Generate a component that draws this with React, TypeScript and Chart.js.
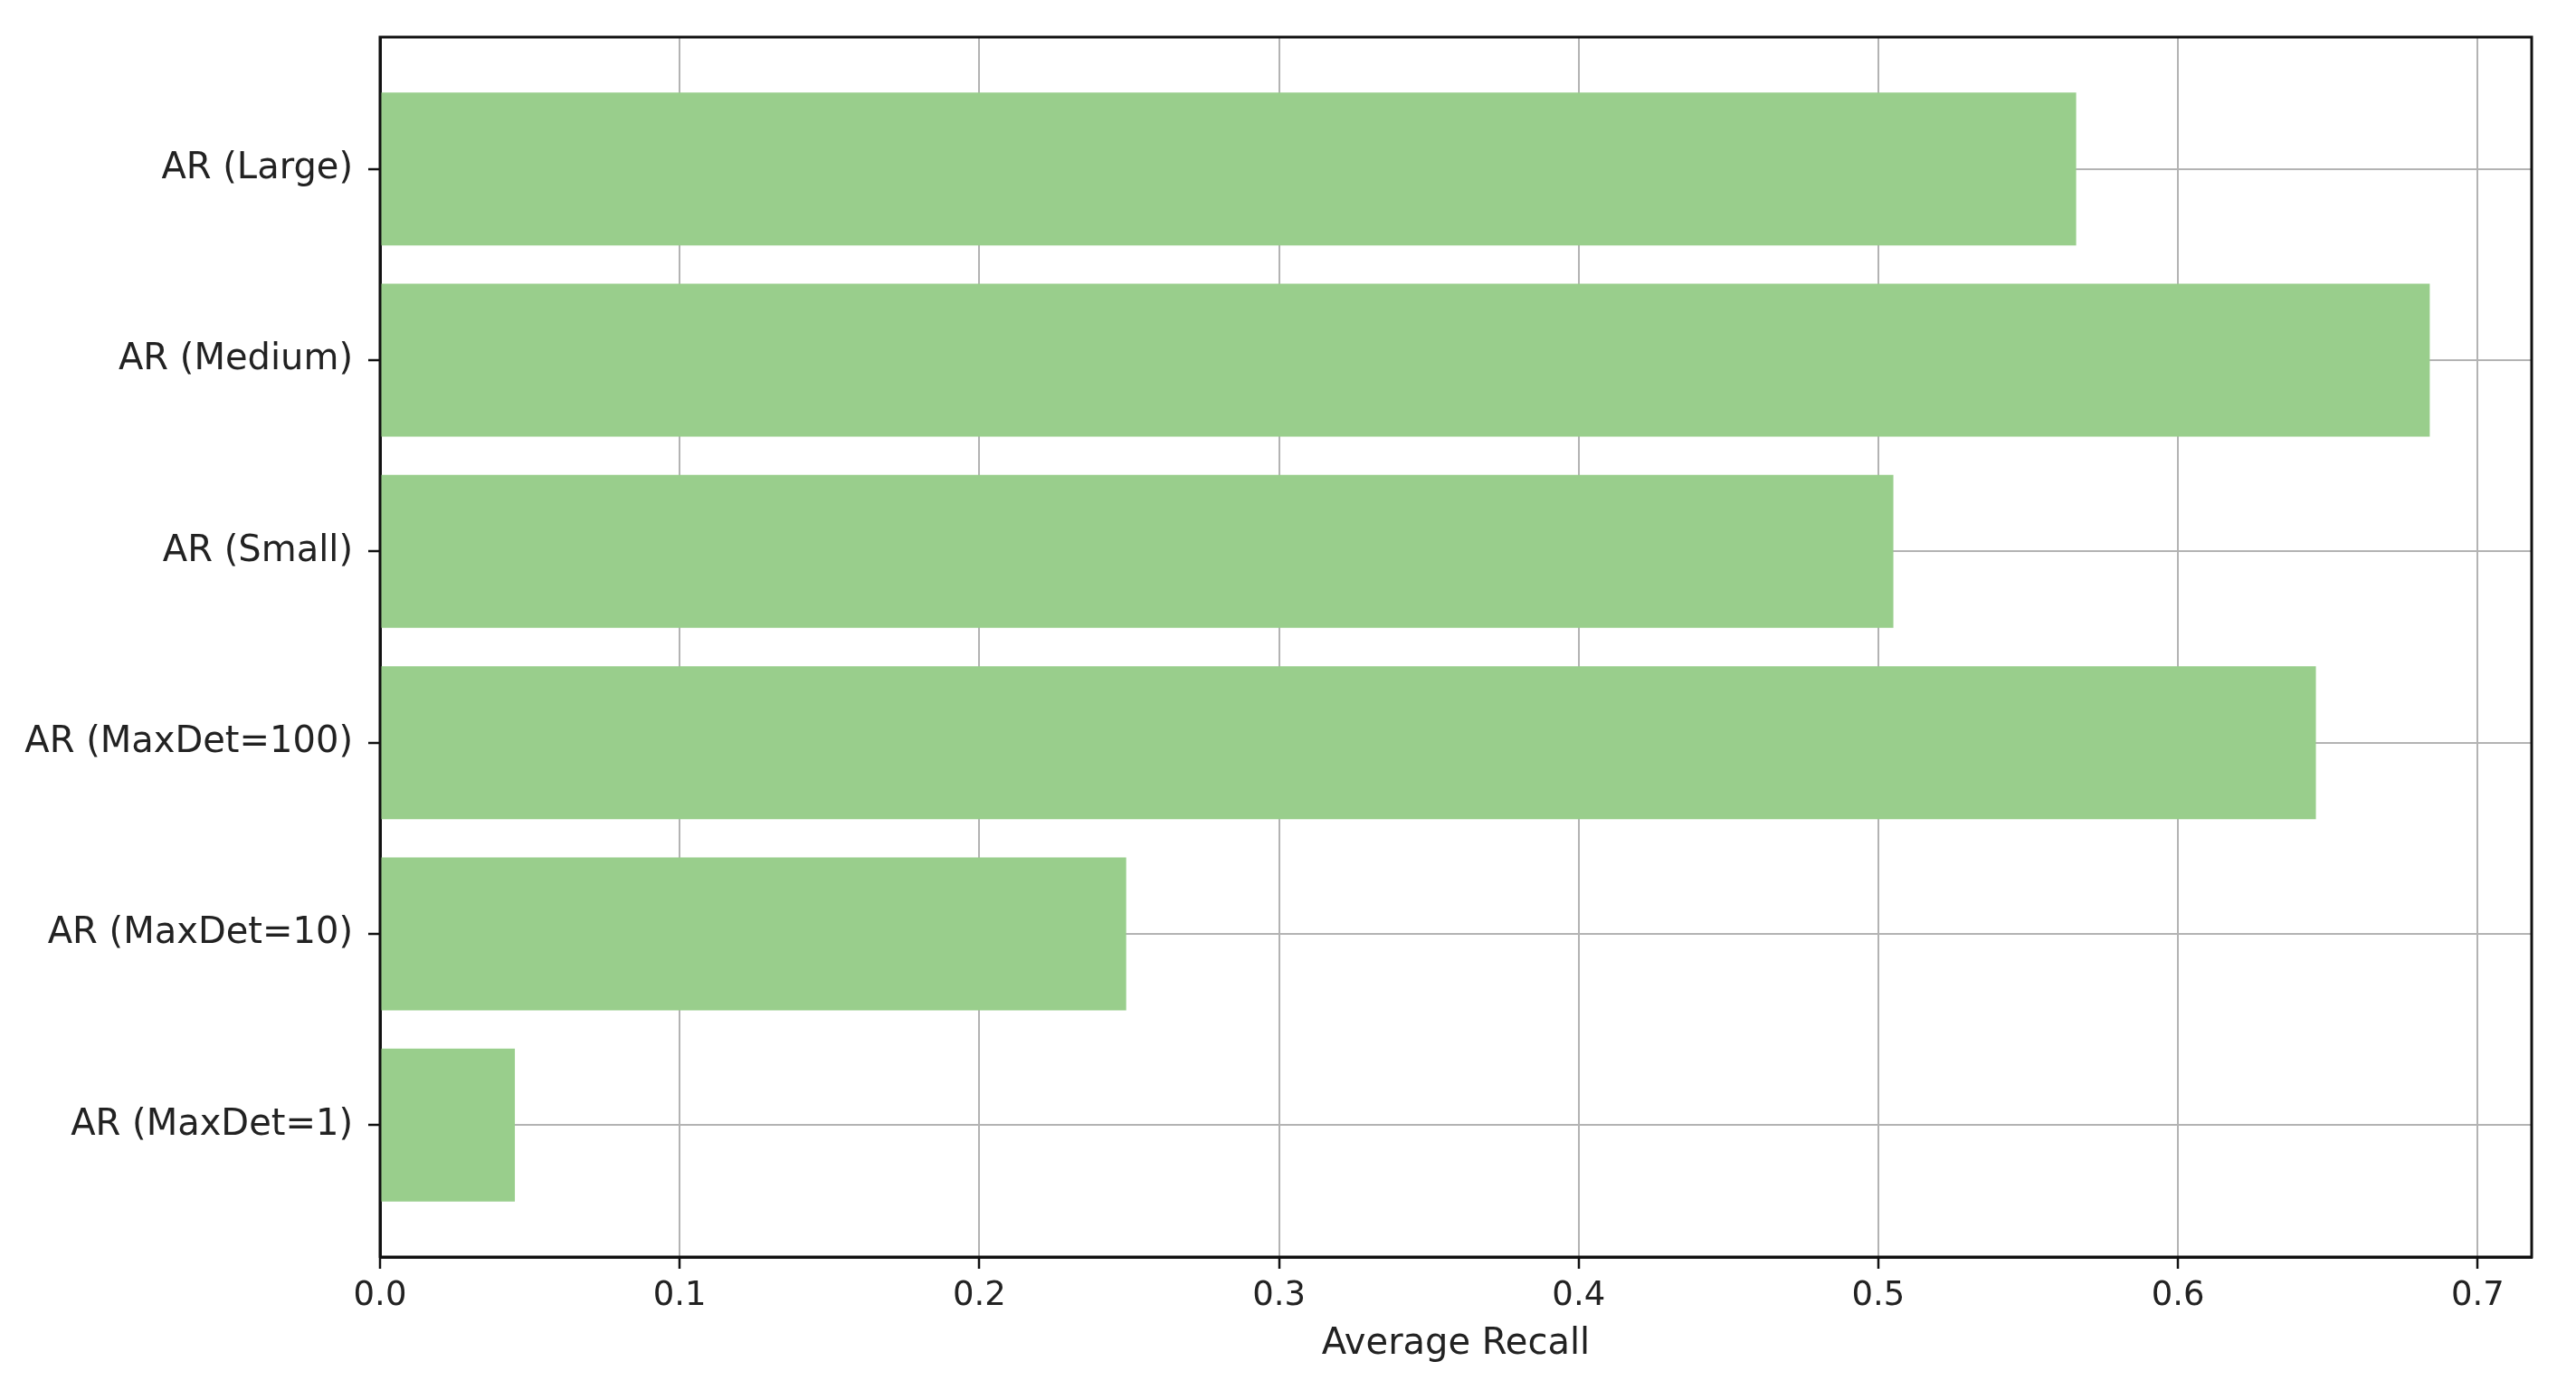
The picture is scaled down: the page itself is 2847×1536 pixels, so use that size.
import React, { useEffect, useRef } from "react";
import { Chart, registerables } from "chart.js";

Chart.register(...registerables);

// Categories listed bottom-to-top (as matplotlib barh plots them)
const categories = [
  "AR (MaxDet=1)",
  "AR (MaxDet=10)",
  "AR (MaxDet=100)",
  "AR (Small)",
  "AR (Medium)",
  "AR (Large)",
];
const recallValues = [0.045, 0.249, 0.646, 0.505, 0.684, 0.566];
const xTickValues = [0, 0.1, 0.2, 0.3, 0.4, 0.5, 0.6, 0.7];
const xAxisTitle = "Average Recall";
const xMin = 0;
const xMax = 0.718;
const yMin = -0.69;
const yMax = 5.69;

const framePlugin = {
  id: "frame",
  afterDraw(chart: any) {
    const { ctx, chartArea } = chart;
    const { left, top, right, bottom } = chartArea;
    ctx.save();
    ctx.strokeStyle = "#111";
    ctx.lineWidth = 3;
    ctx.strokeRect(left, top, right - left, bottom - top);
    ctx.restore();
  },
};

export default function App() {
  const canvasRef = useRef<HTMLCanvasElement | null>(null);

  useEffect(() => {
    const canvas = canvasRef.current;
    if (!canvas) return;
    const font = "'DejaVu Sans', sans-serif";
    const chart = new Chart(canvas, {
      type: "bar",
      data: {
        datasets: [
          {
            label: "Average Recall",
            data: recallValues.map((v, i) => ({ x: v, y: i })),
            backgroundColor: "#99ce8c",
            borderWidth: 0,
            barPercentage: 0.8,
            categoryPercentage: 1.0,
          },
        ],
      },
      options: {
        indexAxis: "y",
        responsive: false,
        animation: false,
        events: [],
        layout: { padding: { top: 36, right: 49, left: 0, bottom: 0 } },
        plugins: {
          legend: { display: false },
          tooltip: { enabled: false },
        },
        scales: {
          x: {
            type: "linear",
            min: xMin,
            max: xMax,
            z: 1,
            afterFit: (scale: any) => {
              scale.height = 147;
            },
            afterBuildTicks: (scale: any) => {
              scale.ticks = xTickValues.map((v) => ({ value: v }));
            },
            ticks: {
              callback: (v: any) => Number(v).toFixed(1),
              font: { family: font, size: 37 },
              color: "#222",
              padding: 8,
              maxRotation: 0,
              autoSkip: false,
            },
            grid: {
              color: "#b3b3b3",
              lineWidth: 2,
              tickColor: "#111",
              tickWidth: 2.5,
              tickLength: 13,
            },
            border: { display: true, color: "#111", width: 3 },
            title: {
              display: true,
              text: xAxisTitle,
              font: { family: font, size: 40 },
              color: "#222",
              padding: { top: 0, bottom: 26 },
            },
          },
          y: {
            type: "linear",
            min: yMin,
            max: yMax,
            offset: false,
            z: 1,
            afterFit: (scale: any) => {
              scale.width = 420;
            },
            afterBuildTicks: (scale: any) => {
              scale.ticks = categories.map((_, i) => ({ value: i }));
            },
            ticks: {
              callback: (v: any) => categories[Math.round(Number(v))] ?? "",
              font: { family: font, size: 40 },
              color: "#222",
              padding: 17,
              autoSkip: false,
            },
            grid: {
              offset: false,
              color: "#b3b3b3",
              lineWidth: 2,
              tickColor: "#111",
              tickWidth: 2.5,
              tickLength: 13,
            },
            border: { display: true, color: "#111", width: 3 },
          },
        },
      },
      plugins: [framePlugin],
    } as any);
    return () => chart.destroy();
  }, []);

  return (
    <div style={{ position: "absolute", left: 0, top: 0, width: 2847, height: 1536, background: "#fff" }}>
      <canvas ref={canvasRef} width={2847} height={1536} style={{ display: "block" }} />
    </div>
  );
}
